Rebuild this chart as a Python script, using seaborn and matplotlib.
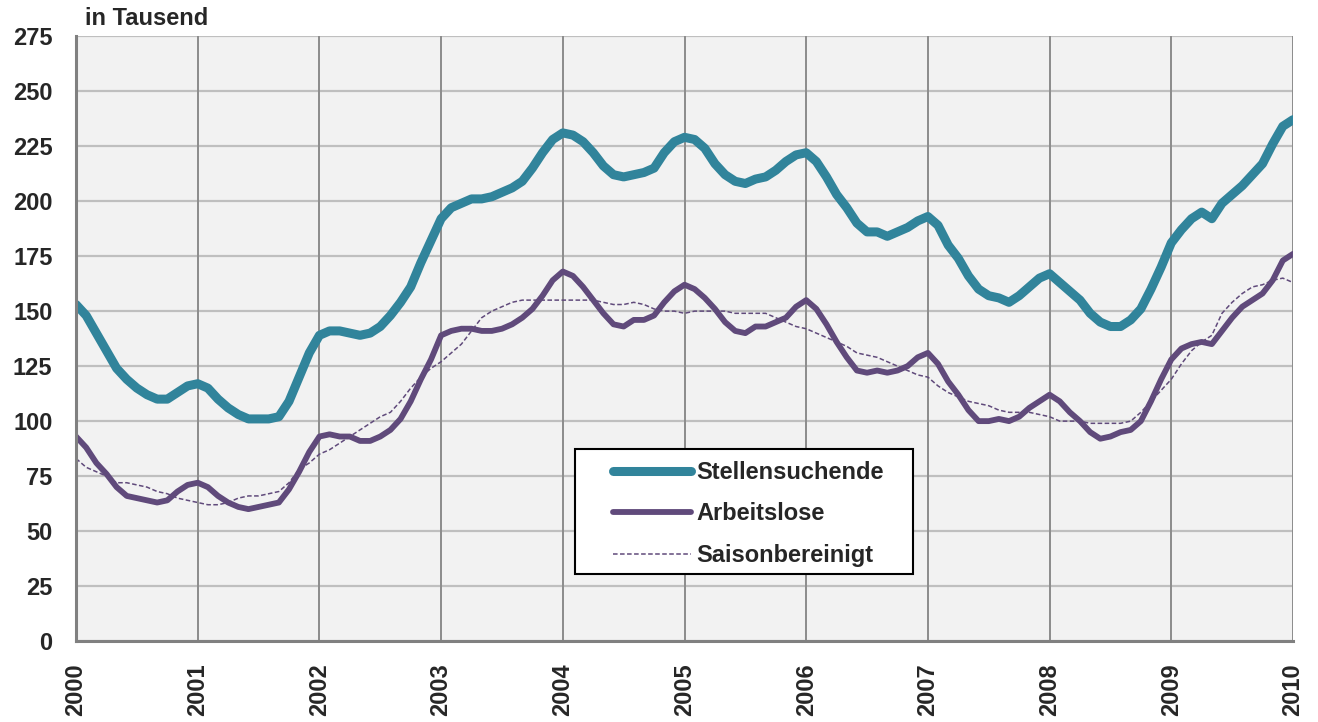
import numpy as np
import pandas as pd
import matplotlib
matplotlib.use('Agg')
import matplotlib.pyplot as plt
from matplotlib.patches import Rectangle
import seaborn as sns

# Monatswerte Jan 2000 - Jan 2010 (in Tausend)
stellensuchende = [153, 148, 140, 132, 124, 119, 115, 112, 110, 110, 113, 116,
                   117, 115, 110, 106, 103, 101, 101, 101, 102, 109, 120, 131,
                   139, 141, 141, 140, 139, 140, 143, 148, 154, 161, 172, 182,
                   192, 197, 199, 201, 201, 202, 204, 206, 209, 215, 222, 228,
                   231, 230, 227, 222, 216, 212, 211, 212, 213, 215, 222, 227,
                   229, 228, 224, 217, 212, 209, 208, 210, 211, 214, 218, 221,
                   222, 218, 211, 203, 197, 190, 186, 186, 184, 186, 188, 191,
                   193, 189, 180, 174, 166, 160, 157, 156, 154, 157, 161, 165,
                   167, 163, 159, 155, 149, 145, 143, 143, 146, 151, 160, 170,
                   181, 187, 192, 195, 192, 199, 203, 207, 212, 217, 226, 234,
                   237]
arbeitslose = [93, 88, 81, 76, 70, 66, 65, 64, 63, 64, 68, 71,
               72, 70, 66, 63, 61, 60, 61, 62, 63, 69, 77, 86,
               93, 94, 93, 93, 91, 91, 93, 96, 101, 109, 119, 128,
               139, 141, 142, 142, 141, 141, 142, 144, 147, 151, 157, 164,
               168, 166, 161, 155, 149, 144, 143, 146, 146, 148, 154, 159,
               162, 160, 156, 151, 145, 141, 140, 143, 143, 145, 147, 152,
               155, 151, 144, 136, 129, 123, 122, 123, 122, 123, 125, 129,
               131, 126, 118, 112, 105, 100, 100, 101, 100, 102, 106, 109,
               112, 109, 104, 100, 95, 92, 93, 95, 96, 100, 109, 119,
               128, 133, 135, 136, 135, 141, 147, 152, 155, 158, 164, 173,
               176]
saisonbereinigt = [83, 79, 77, 75, 72, 72, 71, 70, 68, 67, 65, 64,
                   63, 62, 62, 63, 65, 66, 66, 67, 68, 72, 78, 81,
                   85, 87, 90, 93, 96, 99, 102, 104, 109, 115, 120, 124,
                   127, 131, 135, 141, 147, 150, 152, 154, 155, 155, 155, 155,
                   155, 155, 155, 155, 154, 153, 153, 154, 153, 151, 150, 150,
                   149, 150, 150, 150, 150, 149, 149, 149, 149, 147, 145, 143,
                   142, 140, 138, 136, 134, 131, 130, 129, 127, 125, 123, 121,
                   120, 116, 113, 111, 109, 108, 107, 105, 104, 104, 104, 103,
                   102, 100, 100, 100, 99, 99, 99, 99, 100, 104, 109, 114,
                   119, 126, 132, 136, 139, 149, 154, 158, 161, 162, 164, 165,
                   163]
jahre = list(range(2000, 2011))
y_ticks = list(range(0, 276, 25))

teal = '#31849B'
purple = '#604A7B'

monat = 2000 + np.arange(len(stellensuchende)) / 12
df = pd.DataFrame({'Zeit': monat,
                   'Stellensuchende': stellensuchende,
                   'Arbeitslose': arbeitslose,
                   'Saisonbereinigt': saisonbereinigt})

sns.set_style('white', {'axes.facecolor': '#F2F2F2'})
plt.rcParams['font.family'] = ['Liberation Sans', 'DejaVu Sans']
plt.rcParams['font.weight'] = 'bold'

fig = plt.figure(figsize=(13.18, 7.22), dpi=100)
ax = fig.add_axes([0.0577, 0.112, 0.9233, 0.838])

# Gitter
for yv in y_ticks:
    ax.axhline(yv, color='#BFBFBF', lw=1.6, zorder=0.5)
for j in jahre:
    ax.axvline(j, color='#8C8C8C', lw=1.4, zorder=0.6)

sns.lineplot(data=df, x='Zeit', y='Stellensuchende', ax=ax, color=teal,
             lw=6.5, label='Stellensuchende', zorder=3)
sns.lineplot(data=df, x='Zeit', y='Arbeitslose', ax=ax, color=purple,
             lw=4.2, label='Arbeitslose', zorder=4)
sns.lineplot(data=df, x='Zeit', y='Saisonbereinigt', ax=ax, color=purple,
             lw=1.1, ls=(0, (3, 1.6)), label='Saisonbereinigt', zorder=3.5)

ax.set_xlim(2000, 2010)
ax.set_ylim(0, 275)
ax.set_xticks(jahre)
ax.set_xticklabels([str(j) for j in jahre], rotation=90, fontsize=17,
                   fontweight='bold')
ax.set_yticks(y_ticks)
ax.set_yticklabels([str(v) for v in y_ticks], fontsize=17, fontweight='bold')
ax.tick_params(axis='y', length=6, width=1.5, color='#808080', pad=11)
ax.tick_params(axis='x', length=6, width=1.5, color='#808080', pad=10)
ax.set_xlabel('')
ax.set_ylabel('')

for s in ['top', 'right']:
    ax.spines[s].set_visible(False)
for s in ['left', 'bottom']:
    ax.spines[s].set_color('#808080')
    ax.spines[s].set_linewidth(2.2)
    ax.spines[s].set_zorder(5)

ax.text(0.007, 1.01, 'in Tausend', transform=ax.transAxes, fontsize=17,
        fontweight='bold', ha='left', va='bottom')

# Legendenrahmen
ax.add_patch(Rectangle((0.41, 0.111), 0.278, 0.206, transform=ax.transAxes,
                       facecolor='white', edgecolor='black', lw=1.5,
                       zorder=8))
leg = ax.legend(loc='upper left', bbox_to_anchor=(0.441, 0.298),
                borderaxespad=0, fontsize=17, handlelength=3.3,
                handletextpad=0.25, labelspacing=0.79, borderpad=0,
                frameon=False)
for t in leg.get_texts():
    t.set_fontweight('bold')
leg.set_zorder(10)

plt.savefig('out.png', dpi=100)
